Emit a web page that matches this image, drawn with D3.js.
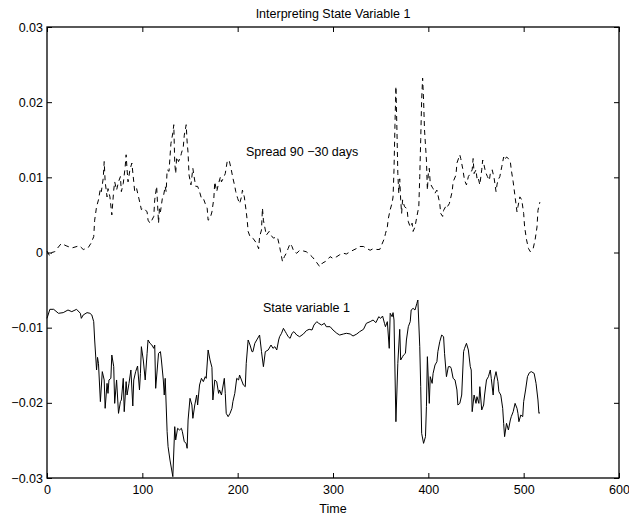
<!DOCTYPE html>
<html>
<head>
<meta charset="utf-8">
<script src="https://cdn.jsdelivr.net/npm/d3@7"></script>
<style>
  html, body { margin: 0; padding: 0; background: #fff; }
  svg { display: block; }
  text { font-family: "Liberation Sans", Arial, Helvetica, sans-serif; }
</style>
</head>
<body>
<svg id="chart" width="629" height="522"></svg>
<script>
// ---- data ----
const titleText = "Interpreting State Variable 1";
const xLabel = "Time";
const xTicks = [0, 100, 200, 300, 400, 500, 600];
const yTicks = [-0.03, -0.02, -0.01, 0, 0.01, 0.02, 0.03];
const xDomain = [0, 600];
const yDomain = [-0.03, 0.03];

const stateLabel = "State variable 1";
const stateTime = [0,3,7,12,17,22,26,31,35,36,38,42,45,47,49,50,52,53,54,56,58,60,61,63,64,65,67,68,70,71,73,75,77,78,80,81,83,84,86,88,90,91,93,95,97,98,99,101,103,105,106,108,110,112,113,114,117,119,120,122,123,124,126,127,129,132,134,135,137,139,141,142,144,146,147,148,150,152,153,155,157,158,160,162,164,166,167,169,171,173,174,176,178,180,181,183,186,187,188,190,192,194,195,197,199,201,202,204,206,208,209,211,213,215,216,218,220,223,225,227,229,232,235,237,239,241,243,244,246,248,250,251,253,255,257,259,262,265,269,272,275,278,280,283,285,288,291,293,297,300,304,307,311,314,318,321,325,328,332,335,339,342,345,348,350,352,354,355,357,359,360,362,363,364,366,368,370,371,373,374,376,377,379,381,382,384,386,388,389,391,392,393,395,397,398,399,401,402,404,405,407,409,410,412,414,416,417,419,421,423,424,426,428,430,431,433,435,437,438,440,442,444,445,446,448,450,451,453,454,456,458,459,461,463,465,466,468,469,471,473,474,476,478,479,480,482,484,486,487,489,491,493,494,495,497,499,500,502,504,506,508,511,513,515,516,517];
const stateValue = [-0.00876,-0.00756,-0.00756,-0.00809,-0.00800,-0.00765,-0.00787,-0.00756,-0.00809,-0.00876,-0.00831,-0.00800,-0.00809,-0.00831,-0.00920,-0.01164,-0.01563,-0.01395,-0.01475,-0.01984,-0.01585,-0.01696,-0.02073,-0.01741,-0.01874,-0.01696,-0.01674,-0.01364,-0.01519,-0.02007,-0.01696,-0.02140,-0.01984,-0.01962,-0.01674,-0.02118,-0.01718,-0.01896,-0.01741,-0.01563,-0.02042,-0.01696,-0.01585,-0.01510,-0.01829,-0.01608,-0.01253,-0.01430,-0.01696,-0.01341,-0.01164,-0.01208,-0.01231,-0.01275,-0.01231,-0.01807,-0.01341,-0.01319,-0.01430,-0.01696,-0.01896,-0.01674,-0.02384,-0.02583,-0.02761,-0.02982,-0.02317,-0.02494,-0.02339,-0.02361,-0.02339,-0.02384,-0.02517,-0.02539,-0.02605,-0.02228,-0.01940,-0.02029,-0.02206,-0.02029,-0.01896,-0.02029,-0.01763,-0.01674,-0.01718,-0.01652,-0.01674,-0.01297,-0.01430,-0.01528,-0.01962,-0.01696,-0.01718,-0.01874,-0.01829,-0.01896,-0.01674,-0.01874,-0.02140,-0.02184,-0.02140,-0.02073,-0.01984,-0.01874,-0.01674,-0.01696,-0.01630,-0.01696,-0.01763,-0.01785,-0.01475,-0.01164,-0.01231,-0.01319,-0.01319,-0.01208,-0.01164,-0.01098,-0.01319,-0.01519,-0.01319,-0.01297,-0.01231,-0.01275,-0.01253,-0.01297,-0.01164,-0.01120,-0.01075,-0.01009,-0.01053,-0.01075,-0.01120,-0.01142,-0.01075,-0.01053,-0.01098,-0.01120,-0.01084,-0.01040,-0.01022,-0.01031,-0.00965,-0.00920,-0.00942,-0.00965,-0.00942,-0.00987,-0.00987,-0.01031,-0.01075,-0.01098,-0.01084,-0.01075,-0.01084,-0.01111,-0.01084,-0.01053,-0.01022,-0.00942,-0.00920,-0.00898,-0.00933,-0.00854,-0.00876,-0.00845,-0.00942,-0.00987,-0.00920,-0.01275,-0.00809,-0.00854,-0.00800,-0.00898,-0.02251,-0.01475,-0.01022,-0.01430,-0.01386,-0.01364,-0.01341,-0.01164,-0.00987,-0.00920,-0.00765,-0.00743,-0.00765,-0.00676,-0.00632,-0.01253,-0.01785,-0.02406,-0.02539,-0.02450,-0.02051,-0.01386,-0.02007,-0.01652,-0.01741,-0.01608,-0.01497,-0.01452,-0.01319,-0.01186,-0.01098,-0.01120,-0.01341,-0.01652,-0.01519,-0.01519,-0.01541,-0.01674,-0.01696,-0.01829,-0.02029,-0.02007,-0.01896,-0.01319,-0.01275,-0.01208,-0.01297,-0.01519,-0.01563,-0.02118,-0.01896,-0.02007,-0.01918,-0.02007,-0.01785,-0.02095,-0.02029,-0.01896,-0.01696,-0.01652,-0.01563,-0.01674,-0.01896,-0.01696,-0.01585,-0.01718,-0.01851,-0.01896,-0.02073,-0.02273,-0.02450,-0.02273,-0.02361,-0.02228,-0.02184,-0.02118,-0.02007,-0.02073,-0.02140,-0.02251,-0.02162,-0.02184,-0.01984,-0.01829,-0.01652,-0.01599,-0.01585,-0.01608,-0.01741,-0.01962,-0.02140,-0.02131];

const spreadLabel = "Spread 90 \u221230 days";
const spreadTime = [0,3,5,8,15,20,26,34,38,43,46,49,50,52,54,56,57,59,60,61,63,64,66,68,70,71,73,75,77,78,80,82,83,84,85,87,89,91,92,94,96,98,99,101,103,105,106,108,110,112,113,115,117,118,119,121,122,124,125,126,128,129,130,132,133,134,135,136,138,140,141,143,144,146,147,148,149,151,153,154,156,158,160,162,164,166,168,169,171,173,175,176,178,180,182,183,185,187,189,191,193,195,197,198,200,202,204,205,207,209,210,211,213,216,220,222,223,225,226,227,229,230,233,236,238,240,242,244,245,247,249,251,253,255,257,259,262,265,269,272,274,278,281,285,286,289,292,294,297,300,304,307,311,314,318,321,325,328,332,335,339,342,346,349,351,354,355,357,358,360,362,363,364,365,366,367,368,369,370,371,372,373,375,377,378,379,381,383,384,386,388,390,391,392,393,394,395,396,398,399,400,401,402,404,405,407,409,412,413,415,416,419,420,422,425,426,429,430,433,434,436,438,440,442,444,446,447,448,450,451,452,454,456,457,458,460,462,464,465,467,469,471,472,473,475,477,479,480,482,484,486,487,489,491,493,494,496,498,500,501,503,505,507,508,510,512,514,515,517];
const spreadValue = [0.0002,-0.0005,0.0000,0.0001,0.0012,0.0009,0.0006,0.0009,0.0004,0.0006,0.0012,0.0021,0.0043,0.0061,0.0070,0.0085,0.0081,0.0099,0.0121,0.0094,0.0074,0.0085,0.0074,0.0050,0.0083,0.0094,0.0083,0.0094,0.0101,0.0081,0.0092,0.0114,0.0130,0.0110,0.0094,0.0110,0.0119,0.0094,0.0081,0.0085,0.0074,0.0063,0.0057,0.0059,0.0057,0.0054,0.0043,0.0039,0.0043,0.0048,0.0070,0.0088,0.0039,0.0059,0.0054,0.0072,0.0074,0.0088,0.0081,0.0110,0.0108,0.0127,0.0145,0.0159,0.0170,0.0119,0.0105,0.0127,0.0121,0.0127,0.0132,0.0141,0.0156,0.0170,0.0147,0.0132,0.0103,0.0090,0.0112,0.0103,0.0088,0.0088,0.0081,0.0072,0.0072,0.0065,0.0059,0.0043,0.0045,0.0054,0.0072,0.0094,0.0081,0.0092,0.0101,0.0094,0.0099,0.0105,0.0121,0.0123,0.0112,0.0099,0.0088,0.0081,0.0072,0.0065,0.0074,0.0083,0.0074,0.0054,0.0043,0.0028,0.0021,0.0019,0.0012,0.0005,0.0021,0.0030,0.0059,0.0043,0.0030,0.0023,0.0028,0.0021,0.0019,0.0021,0.0019,0.0008,0.0001,-0.0012,-0.00055,-0.0001,0.00055,0.0012,0.0008,0.0001,-0.0001,0.0003,0.0002,0.0001,-0.0001,-0.00055,-0.0010,-0.0017,-0.0019,-0.0014,-0.0012,-0.0010,-0.00055,-0.0008,-0.00055,-0.0003,-0.0001,-0.0002,0.0001,0.0003,0.00055,0.0008,0.0008,0.00055,0.0003,0.0005,0.0004,0.0004,0.0010,0.0019,0.0025,0.0034,0.0045,0.0057,0.0066,0.0074,0.0110,0.0170,0.0221,0.0167,0.0105,0.0079,0.0098,0.0070,0.0052,0.0070,0.0061,0.0059,0.0054,0.0041,0.0034,0.0039,0.0028,0.0034,0.0048,0.0061,0.0101,0.0150,0.0203,0.0232,0.0203,0.0163,0.0123,0.0083,0.0105,0.0112,0.0092,0.0087,0.0085,0.0079,0.0083,0.0065,0.0052,0.0048,0.0056,0.0063,0.0061,0.0065,0.0081,0.0094,0.0103,0.0119,0.0130,0.0125,0.0112,0.0096,0.0090,0.0101,0.0105,0.0110,0.0125,0.0105,0.0110,0.0099,0.0101,0.0090,0.0110,0.0123,0.0119,0.0107,0.0101,0.0096,0.0105,0.0110,0.0099,0.0081,0.0090,0.0096,0.0101,0.0114,0.0127,0.0123,0.0127,0.0125,0.0121,0.0110,0.0094,0.0074,0.0054,0.0061,0.0074,0.0070,0.0052,0.0034,0.0017,0.00055,0.0001,0.0003,0.00055,0.0017,0.0034,0.0056,0.0067];

// ---- layout ----
const W = 629, H = 522;
const L = 47, R = 619, T = 27, B = 478;
const fontSize = 12.5;

const svg = d3.select("#chart");
svg.append("rect").attr("width", W).attr("height", H).attr("fill", "#fff");

const x = d3.scaleLinear().domain(xDomain).range([L, R]);
const y = d3.scaleLinear().domain(yDomain).range([B, T]);

const yFmt = d => (Math.abs(d) < 1e-12 ? "0" : d3.format(".2f")(d));

// bottom axis (with labels), ticks inward
const gB = svg.append("g").attr("transform", `translate(0,${B})`)
  .call(d3.axisBottom(x).tickValues(xTicks).tickFormat(d3.format("d"))
    .tickSizeInner(-5).tickSizeOuter(0).tickPadding(7));
// top axis (no labels)
const gT = svg.append("g").attr("transform", `translate(0,${T})`)
  .call(d3.axisTop(x).tickValues(xTicks).tickFormat("")
    .tickSizeInner(-5).tickSizeOuter(0));
// left axis (with labels)
const gL = svg.append("g").attr("transform", `translate(${L},0)`)
  .call(d3.axisLeft(y).tickValues(yTicks).tickFormat(yFmt)
    .tickSizeInner(-5).tickSizeOuter(0).tickPadding(4));
// right axis (no labels)
const gR = svg.append("g").attr("transform", `translate(${R},0)`)
  .call(d3.axisRight(y).tickValues(yTicks).tickFormat("")
    .tickSizeInner(-5).tickSizeOuter(0));

[gB, gT, gL, gR].forEach(g => {
  g.select(".domain").remove();
  g.selectAll("line").attr("stroke", "#000").attr("stroke-width", 1);
  g.selectAll("text").attr("fill", "#000")
    .style("font-size", fontSize + "px")
    .style("font-family", '"Liberation Sans", Arial, Helvetica, sans-serif');
});

// box
svg.append("rect")
  .attr("x", L).attr("y", T).attr("width", R - L).attr("height", B - T)
  .attr("fill", "none").attr("stroke", "#000").attr("stroke-width", 1.3);

// lines
const line = d3.line().x(d => x(d[0])).y(d => y(d[1]));
const spreadData = spreadTime.map((t, i) => [t, spreadValue[i]]);
const stateData = stateTime.map((t, i) => [t, stateValue[i]]);

svg.append("path").datum(spreadData)
  .attr("d", line).attr("fill", "none").attr("stroke", "#000")
  .attr("stroke-width", 1).attr("stroke-dasharray", "5,4");

svg.append("path").datum(stateData)
  .attr("d", line).attr("fill", "none").attr("stroke", "#000")
  .attr("stroke-width", 1);

// texts
svg.append("text").attr("x", (L + R) / 2).attr("y", 18)
  .attr("text-anchor", "middle").style("font-size", fontSize + "px").text(titleText);
svg.append("text").attr("x", (L + R) / 2).attr("y", 513)
  .attr("text-anchor", "middle").style("font-size", fontSize + "px").text(xLabel);
svg.append("text").attr("x", 246).attr("y", 156)
  .style("font-size", fontSize + "px").text(spreadLabel);
svg.append("text").attr("x", 263).attr("y", 312)
  .style("font-size", fontSize + "px").text(stateLabel);
</script>
</body>
</html>
